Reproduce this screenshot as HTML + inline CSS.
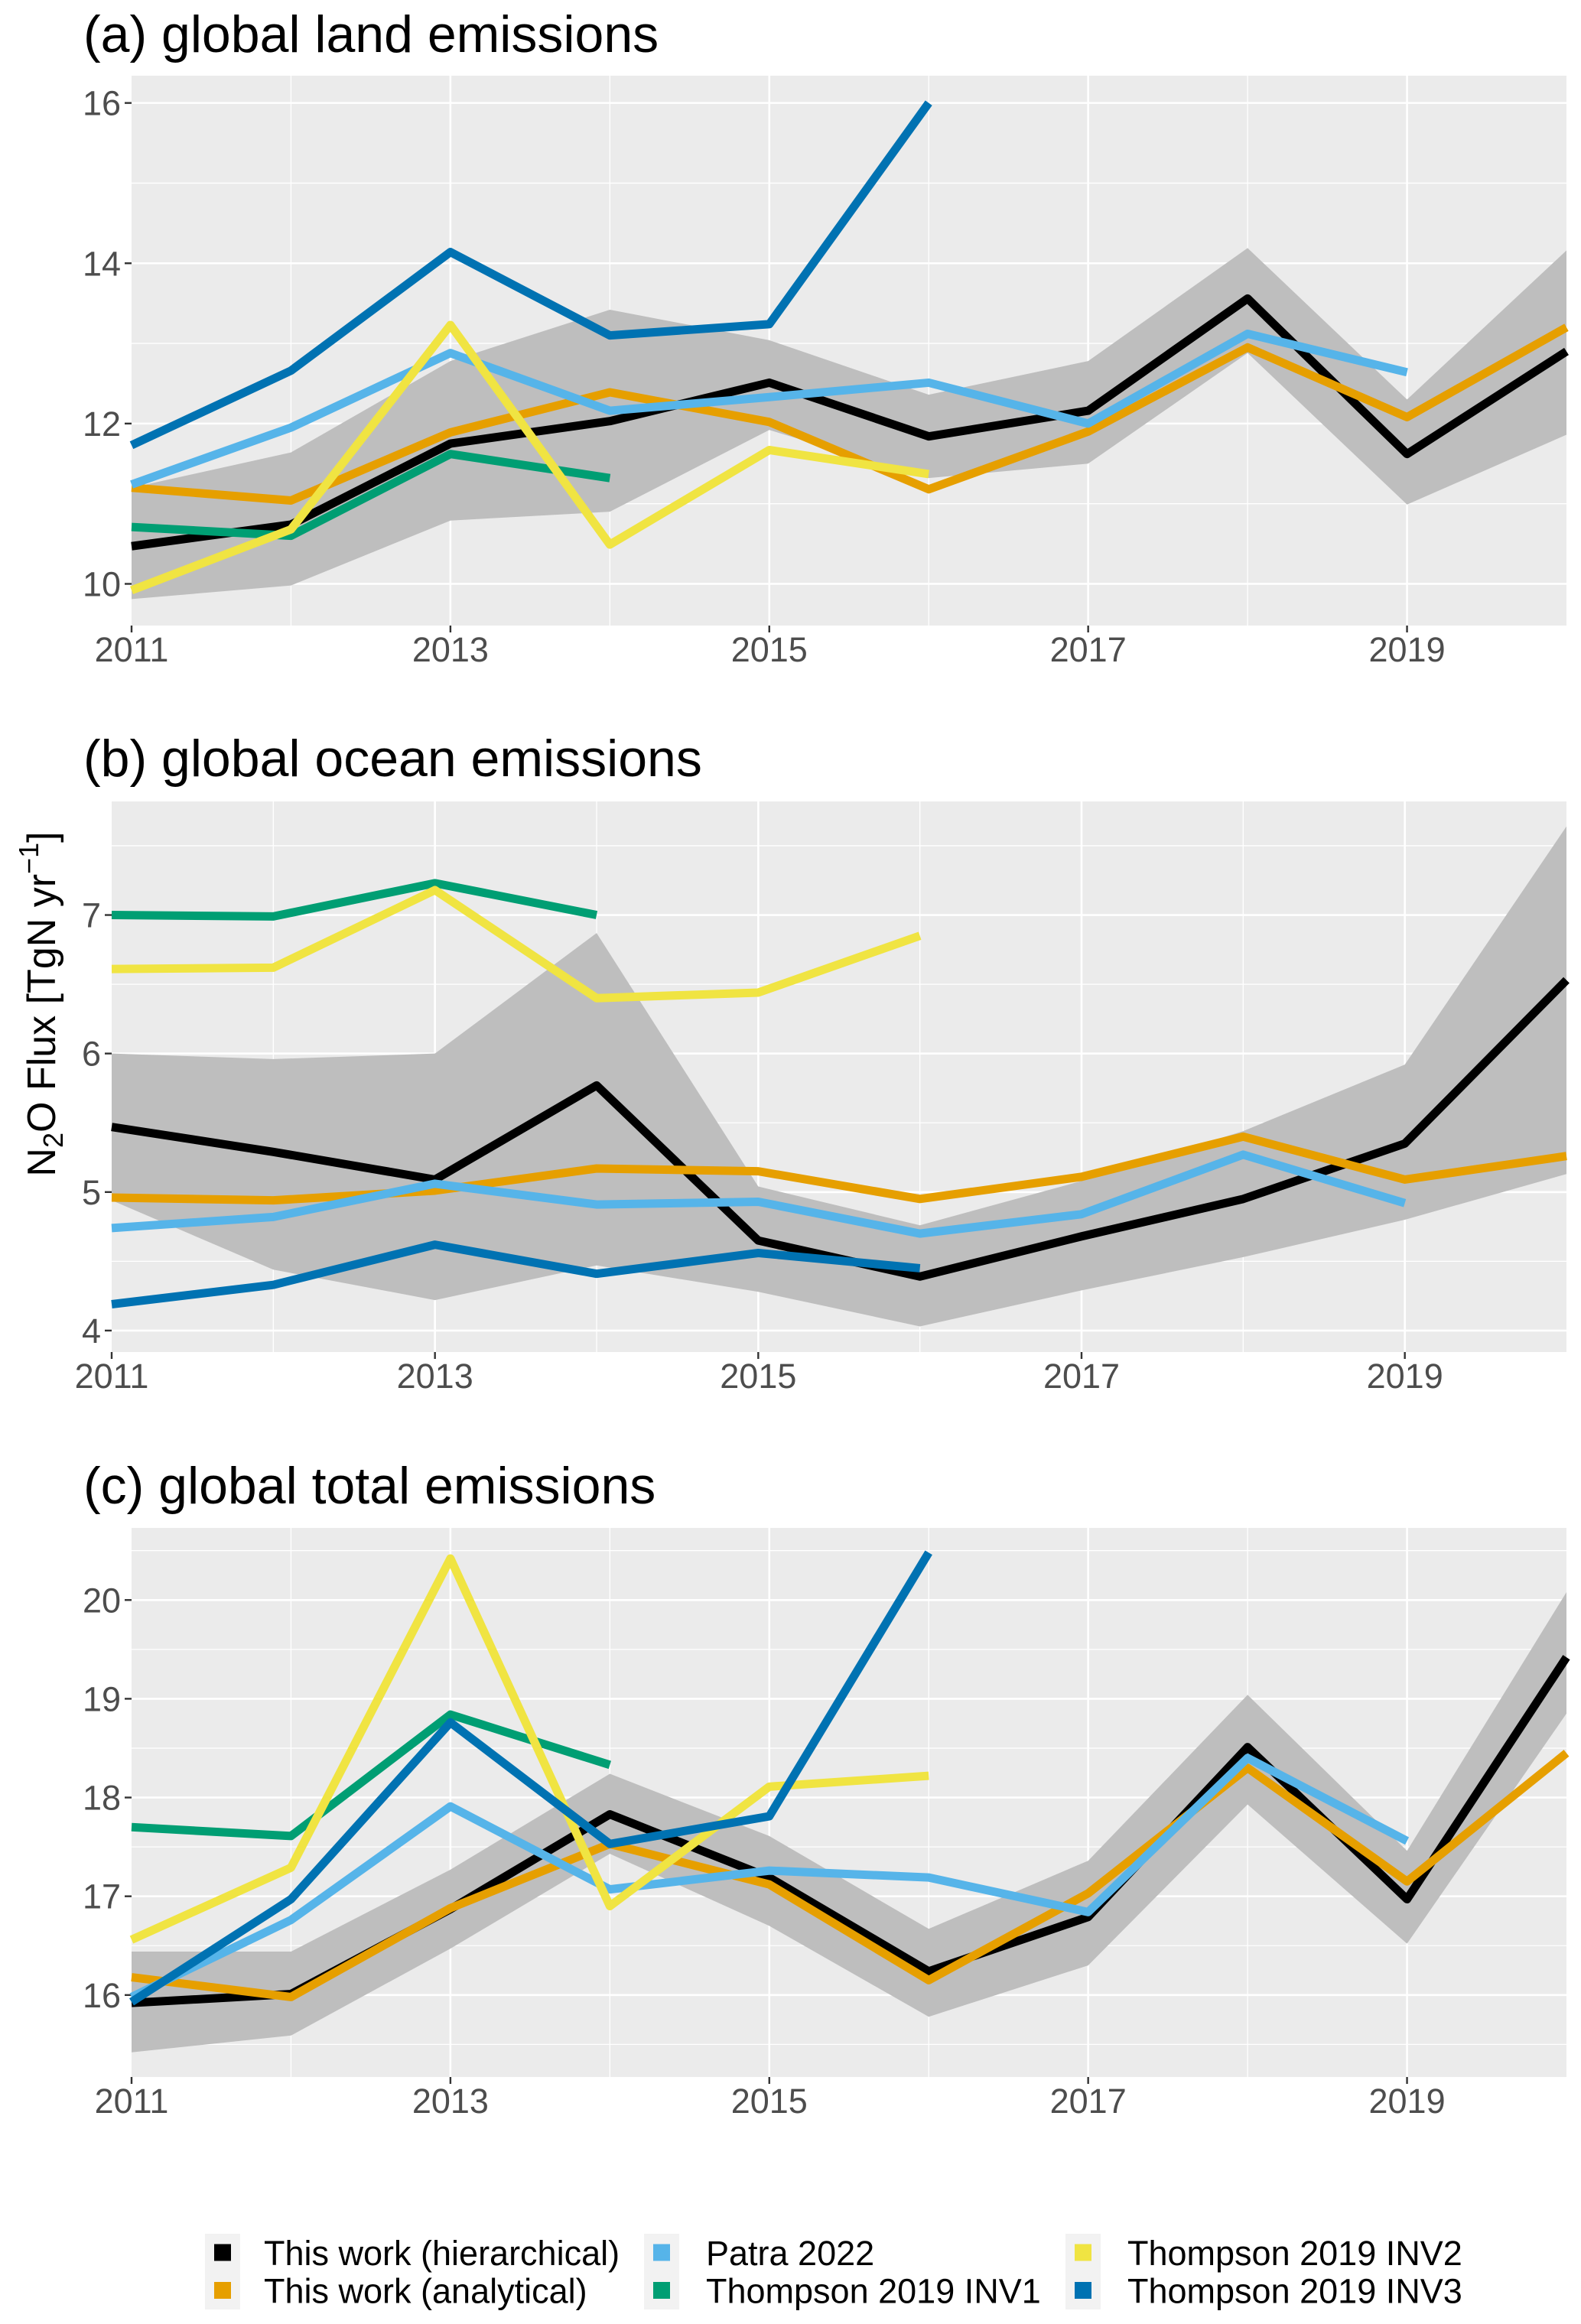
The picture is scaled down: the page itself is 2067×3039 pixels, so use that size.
<!DOCTYPE html>
<html><head><meta charset="utf-8">
<style>
html,body{margin:0;padding:0;background:#fff;}
svg{display:block;font-family:"Liberation Sans",Arial,sans-serif;}
</style></head>
<body>
<svg id="chart" width="2067" height="3039" viewBox="0 0 2067 3039" xmlns="http://www.w3.org/2000/svg">
<text x="109" y="68" font-size="68" fill="#000">(a) global land emissions</text>
<text x="109" y="1015" font-size="68" fill="#000">(b) global ocean emissions</text>
<text x="109" y="1966" font-size="68" fill="#000">(c) global total emissions</text>
<text transform="translate(72,1313) rotate(-90)" text-anchor="middle" font-size="52" fill="#000">N<tspan font-size="36" dy="10">2</tspan><tspan dy="-10">O Flux [TgN yr</tspan><tspan font-size="36" dy="-22">−1</tspan><tspan dy="22">]</tspan></text>
<g id="panels"></g>
<g id="legend"></g>
</svg>
<script>
const years = [2011,2012,2013,2014,2015,2016,2017,2018,2019,2020];
const seriesNames = ["This work (hierarchical)","This work (analytical)","Patra 2022","Thompson 2019 INV1","Thompson 2019 INV2","Thompson 2019 INV3"];
const seriesColors = ["#000000","#E69F00","#56B4E9","#009E73","#F0E442","#0072B2"];

const landHier = [10.47,10.74,11.75,12.03,12.51,11.84,12.16,13.56,11.62,12.9];
const landAnal = [11.2,11.04,11.89,12.39,12.02,11.18,11.9,12.95,12.08,13.2];
const landPatra = [11.24,11.95,12.88,12.16,12.33,12.51,12.0,13.12,12.64,null];
const landInv1 = [10.71,10.6,11.62,11.32,null,null,null,null,null,null];
const landInv2 = [9.92,10.68,13.23,10.49,11.67,11.37,null,null,null,null];
const landInv3 = [11.73,12.66,14.14,13.1,13.24,16.0,null,null,null,null];
const landLow = [9.81,9.98,10.79,10.9,11.92,11.32,11.5,12.88,10.99,11.86];
const landHigh = [11.2,11.64,12.78,13.42,13.04,12.36,12.78,14.19,12.3,14.16];
const landTicks = [10,12,14,16];

const oceanHier = [5.47,5.29,5.09,5.77,4.65,4.39,4.68,4.95,5.35,6.53];
const oceanAnal = [4.96,4.94,5.01,5.17,5.15,4.95,5.11,5.40,5.09,5.26];
const oceanPatra = [4.74,4.82,5.06,4.91,4.93,4.70,4.84,5.27,4.92,null];
const oceanInv1 = [7.0,6.99,7.23,7.0,null,null,null,null,null,null];
const oceanInv2 = [6.61,6.62,7.18,6.4,6.44,6.85,null,null,null,null];
const oceanInv3 = [4.19,4.33,4.62,4.41,4.56,4.45,null,null,null,null];
const oceanLow = [4.94,4.44,4.22,4.47,4.28,4.03,4.29,4.53,4.80,5.13];
const oceanHigh = [6.0,5.96,6.0,6.87,5.04,4.76,5.08,5.44,5.92,7.64];
const oceanTicks = [4,5,6,7];

const totalHier = [15.92,16.01,16.87,17.83,17.19,16.24,16.79,18.51,16.97,19.42];
const totalAnal = [16.18,15.98,16.88,17.53,17.12,16.15,17.03,18.30,17.15,18.45];
const totalPatra = [15.98,16.76,17.91,17.07,17.26,17.19,16.84,18.40,17.56,null];
const totalInv1 = [17.70,17.61,18.84,18.33,null,null,null,null,null,null];
const totalInv2 = [16.56,17.29,20.42,16.9,18.11,18.22,null,null,null,null];
const totalInv3 = [15.93,16.97,18.76,17.53,17.81,20.48,null,null,null,null];
const totalLow = [15.42,15.59,16.47,17.43,16.70,15.78,16.30,17.93,16.52,18.85];
const totalHigh = [16.44,16.44,17.27,18.24,17.61,16.67,17.36,19.04,17.46,20.08];
const totalTicks = [16,17,18,19,20];

const xTickLabels = ["2011","2013","2015","2017","2019"];

const NS = "http://www.w3.org/2000/svg";
function mk(tag, attrs, parent){
  const e = document.createElementNS(NS, tag);
  for (const k in attrs) e.setAttribute(k, attrs[k]);
  if (parent) parent.appendChild(e);
  return e;
}

const panelDefs = [
  {key:"land", left:172, top:99, bottom:818, right:2048, vmin:9.48, vmax:16.34, minorStep:1, ticks:landTicks,
   series:[landHier,landAnal,landPatra,landInv1,landInv2,landInv3], low:landLow, high:landHigh},
  {key:"ocean", left:146, top:1048, bottom:1768, right:2048, vmin:3.845, vmax:7.82, minorStep:0.5, ticks:oceanTicks,
   series:[oceanHier,oceanAnal,oceanPatra,oceanInv1,oceanInv2,oceanInv3], low:oceanLow, high:oceanHigh},
  {key:"total", left:172, top:1998, bottom:2716, right:2048, vmin:15.17, vmax:20.73, minorStep:0.5, ticks:totalTicks,
   series:[totalHier,totalAnal,totalPatra,totalInv1,totalInv2,totalInv3], low:totalLow, high:totalHigh}
];

const root = document.getElementById("panels");
panelDefs.forEach(p => {
  const g = mk("g", {}, root);
  
  
  const xs = yr => p.left + (yr - 2011) / 9 * (p.right - p.left);
  const ys = v => p.bottom - (v - p.vmin) / (p.vmax - p.vmin) * (p.bottom - p.top);
  const bg = mk("rect", {x:p.left, y:p.top, width:p.right-p.left, height:p.bottom-p.top, fill:"#ebebeb"}, g);
  
  
  // minor horizontal grid
  const start = Math.ceil(p.vmin / p.minorStep) * p.minorStep;
  for (let v = start; v <= p.vmax; v += p.minorStep) {
    const isMajor = p.ticks.some(t => Math.abs(t - v) < 1e-6);
    if (isMajor) continue;
    const l = mk("line", {x1:p.left, x2:p.right, y1:ys(v), y2:ys(v), stroke:"#fff", "stroke-width":1.3}, g);
    
    
  }
  // vertical grid
  years.forEach((yr, i) => {
    if (yr === 2011 || yr === 2020) return;
    const major = (yr - 2011) % 2 === 0;
    const l = mk("line", {x1:xs(yr), x2:xs(yr), y1:p.top, y2:p.bottom, stroke:"#fff", "stroke-width": major ? 2.6 : 1.3}, g);
    
    
  });
  // major horizontal grid + y ticks
  p.ticks.forEach(t => {
    const l = mk("line", {x1:p.left, x2:p.right, y1:ys(t), y2:ys(t), stroke:"#fff", "stroke-width":2.6}, g);
    
    
    const tk = mk("line", {x1:p.left-9, x2:p.left, y1:ys(t), y2:ys(t), stroke:"#333", "stroke-width":2.4}, g);
    
    
    const tx = mk("text", {x:p.left-14, y:ys(t)+16, "text-anchor":"end", "font-size":45, fill:"#4d4d4d"}, g);
    tx.textContent = String(t);
    
    
  });
  // ribbon
  let d = "";
  years.forEach((yr, i) => { d += (i ? "L" : "M") + xs(yr) + "," + ys(p.high[i]); });
  for (let i = years.length - 1; i >= 0; i--) d += "L" + xs(years[i]) + "," + ys(p.low[i]);
  const rib = mk("path", {d: d + "Z", fill:"#bebebe"}, g);
  
  
  // series
  p.series.forEach((vals, si) => {
    let pd = "", first = true;
    vals.forEach((v, i) => {
      if (v === null) return;
      pd += (first ? "M" : "L") + xs(years[i]) + "," + ys(v);
      first = false;
    });
    const path = mk("path", {d:pd, fill:"none", stroke:seriesColors[si], "stroke-width":11, "stroke-linejoin":"round"}, g);
    
    
  });
  // x ticks
  xTickLabels.forEach(lab => {
    const yr = +lab;
    const tk = mk("line", {x1:xs(yr), x2:xs(yr), y1:p.bottom, y2:p.bottom+9, stroke:"#333", "stroke-width":2.4}, g);
    
    
    const tx = mk("text", {x:xs(yr), y:p.bottom+47, "text-anchor":"middle", "font-size":45, fill:"#4d4d4d"}, g);
    tx.textContent = lab;
    
    
  });
});

// legend
const lg = document.getElementById("legend");
const colX = [268, 842, 1393];
const textX = [345, 923, 1474];
seriesNames.forEach((name, i) => {
  const col = Math.floor(i / 2), row = i % 2;
  const ky = 2921 + row * 49.5;
  const kb = mk("rect", {x:colX[col], y:ky, width:46, height:49.5, fill:"#f2f2f2"}, lg);
  
  
  const sw = mk("rect", {x:colX[col]+12, y:ky+13.5, width:22, height:22, fill:seriesColors[i]}, lg);
  
  
  const t = mk("text", {x:textX[col], y:ky+41, "font-size":45, fill:"#000"}, lg);
  t.textContent = name;
  
  
});
</script>
</body></html>
